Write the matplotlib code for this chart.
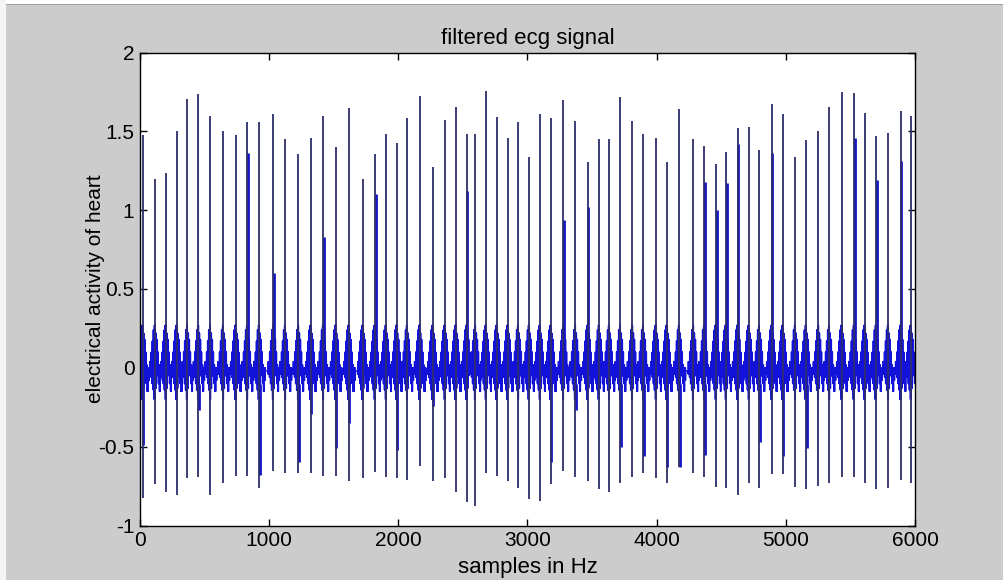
import numpy as np
import matplotlib
matplotlib.use("Agg")
import matplotlib.pyplot as plt
from matplotlib.patches import Rectangle

# ---- data ----
n_samples = 6000
beat_pos = [21, 116, 201, 284, 366, 452, 545, 645, 741, 831, 922, 1032, 1125, 1226, 1322, 1419,
            1515, 1616, 1724, 1819, 1905, 1987, 2069, 2165, 2266, 2361, 2444, 2529, 2596, 2679,
            2762, 2846, 2929, 3012, 3097, 3180, 3278, 3370, 3466, 3554, 3633, 3719, 3812, 3897,
            3995, 4078, 4175, 4284, 4369, 4459, 4537, 4627, 4715, 4795, 4891, 4976, 5073, 5156,
            5252, 5337, 5433, 5528, 5611, 5698, 5793, 5889, 5969]
r_peak = [1.476, 1.195, 1.233, 1.504, 1.705, 1.734, 1.599, 1.504, 1.476, 1.557, 1.557, 1.609,
          1.451, 1.354, 1.459, 1.599, 1.398, 1.646, 1.195, 1.354, 1.483, 1.424, 1.582, 1.724,
          1.275, 1.571, 1.652, 1.483, 1.483, 1.755, 1.588, 1.459, 1.557, 1.335, 1.607, 1.582,
          1.696, 1.565, 1.307, 1.451, 1.451, 1.717, 1.565, 1.483, 1.459, 1.307, 1.640, 1.451,
          1.406, 1.292, 1.370, 1.518, 1.529, 1.381, 1.671, 1.609, 1.339, 1.445, 1.504, 1.652,
          1.747, 1.740, 1.618, 1.470, 1.487, 1.628, 1.599]
s_trough = [-0.824, -0.739, -0.790, -0.807, -0.701, -0.695, -0.807, -0.728, -0.686, -0.686,
            -0.764, -0.655, -0.666, -0.666, -0.666, -0.686, -0.686, -0.718, -0.697, -0.662,
            -0.695, -0.701, -0.711, -0.623, -0.718, -0.701, -0.790, -0.849, -0.876, -0.666,
            -0.686, -0.718, -0.764, -0.832, -0.843, -0.739, -0.652, -0.695, -0.718, -0.771,
            -0.790, -0.728, -0.695, -0.666, -0.701, -0.728, -0.631, -0.666, -0.695, -0.754,
            -0.764, -0.807, -0.732, -0.764, -0.675, -0.675, -0.754, -0.771, -0.747, -0.728,
            -0.695, -0.695, -0.728, -0.771, -0.764, -0.711, -0.728]
# secondary (thick blue) partial spikes: beat number (1-based) and reached value
sec_up_beat = [10, 12, 16, 20, 28, 37, 39, 49, 50, 51, 52, 55, 62, 64, 66]
sec_up_val = [1.36, 0.60, 0.83, 1.10, 1.12, 0.94, 1.02, 1.18, 1.00, 1.17, 1.42, 1.36, 1.46, 1.19, 1.31]
sec_dn_beat = [1, 6, 11, 14, 15, 17, 18, 22, 25, 36, 38, 42, 44, 46, 47, 49, 54, 56, 58]
sec_dn_val = [-0.49, -0.27, -0.68, -0.595, -0.29, -0.51, -0.35, -0.52, -0.24, -0.595, -0.27,
              -0.50, -0.56, -0.63, -0.63, -0.55, -0.47, -0.56, -0.51]
# dense band around each beat (offsets in samples from the R spike, low/high level)
band_start = [-40, -30, -22, -14, -6, 2, 10, 18, 26, 34, 42]
band_end = [-30, -22, -14, -6, 2, 10, 18, 26, 34, 42, 50]
band_lo = [-0.04, -0.06, -0.10, -0.14, -0.20, -0.13, -0.05, -0.02, -0.10, -0.15, -0.08]
band_hi = [0.04, 0.10, 0.17, 0.24, 0.27, 0.22, 0.18, 0.10, 0.02, -0.03, 0.00]
baseline = -0.02

x_ticks = [0, 1000, 2000, 3000, 4000, 5000, 6000]
y_ticks = [-1, -0.5, 0, 0.5, 1, 1.5, 2]
y_ticklabels = ["-1", "-0.5", "0", "0.5", "1", "1.5", "2"]

# ---- build the band signal from the beat table ----
samples = np.arange(n_samples)
signal = np.full(n_samples, baseline)
for p in beat_pos:
    for s0, s1, lo, hi in zip(band_start, band_end, band_lo, band_hi):
        a, b = max(p + s0, 0), min(p + s1, n_samples)
        if a >= b:
            continue
        idx = np.arange(a, b)
        signal[a:b] = np.where(idx % 2 == 0, lo, hi)

plt.rcParams['font.family'] = ['Liberation Sans', 'DejaVu Sans']
fig = plt.figure(figsize=(10.04, 5.80), dpi=100, facecolor='#cccccc')
# white frame strips at top and left edge of the screenshot
fig.patches.append(Rectangle((0, 1 - 4 / 580), 1, 4 / 580, transform=fig.transFigure,
                             facecolor='white', edgecolor='none'))
fig.patches.append(Rectangle((0, 1 - 5 / 580), 1, 1 / 580, transform=fig.transFigure,
                             facecolor='#a0a0a0', edgecolor='none'))
fig.patches.append(Rectangle((0, 0), 6 / 1004, 1, transform=fig.transFigure,
                             facecolor='#f4f4f4', edgecolor='none'))

ax = fig.add_axes([140 / 1004, (580 - 525.5) / 580, 775 / 1004, 473 / 580])
ax.set_facecolor('white')

ax.plot(samples, signal, color='#1212d8', lw=0.9, zorder=2)
bp = np.array(beat_pos)
ax.vlines(bp[np.array(sec_up_beat) - 1] + 5, 0.1, sec_up_val, color='#1515c8', lw=2.0, zorder=3)
ax.vlines(bp[np.array(sec_dn_beat) - 1] + 5, sec_dn_val, -0.1, color='#1515c8', lw=2.0, zorder=3)
ax.vlines(bp, s_trough, r_peak, color='#2e2e6c', lw=1.3, zorder=4)

ax.set_xlim(0, 6000)
ax.set_ylim(-1, 2)
ax.set_xticks(x_ticks)
ax.set_yticks(y_ticks)
ax.set_yticklabels(y_ticklabels)
ax.tick_params(direction='in', length=5, width=1, top=True, right=True,
               labelsize=15, colors='black', pad=4)
for sp in ax.spines.values():
    sp.set_linewidth(1.0)
    sp.set_color('black')

ax.set_title('filtered ecg signal', fontsize=16, pad=6)
ax.set_xlabel('samples in Hz', fontsize=16)
ax.xaxis.set_label_coords(0.5, -0.066)
ax.set_ylabel('electrical activity of heart', fontsize=15)
ax.yaxis.set_label_coords(-0.045, 0.5)

fig.savefig('out.png', dpi=100, facecolor=fig.get_facecolor())
